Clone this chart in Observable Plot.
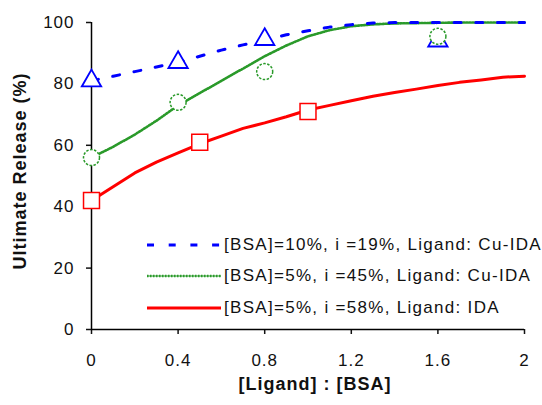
<!DOCTYPE html>
<html>
<head>
<meta charset="utf-8">
<script src="https://cdn.jsdelivr.net/npm/d3@7"></script>
<script src="https://cdn.jsdelivr.net/npm/@observablehq/plot@0.6"></script>
<style>
  html, body { margin: 0; padding: 0; background: #fff; }
  #wrap { position: relative; width: 542px; height: 405px; }
  #legend { position: absolute; left: 147px; top: 229px; font-family: "Liberation Sans", Arial, sans-serif; font-size: 17px; letter-spacing: 1.3px; color: #111; }
  .row { display: flex; align-items: center; height: 31.5px; white-space: nowrap; }
  .row svg { width: 77px; height: 10px; display: block; }
</style>
</head>
<body>
<div id="wrap"><div id="legend"></div></div>
<script>
// ---- data ----
const xTicks = [0, 0.4, 0.8, 1.2, 1.6, 2];
const yTicks = [0, 20, 40, 60, 80, 100];

const curveX = [0, 0.1, 0.2, 0.3, 0.4, 0.5, 0.6, 0.7, 0.8, 0.9, 1.0, 1.1, 1.2, 1.3, 1.4, 1.5, 1.6, 1.7, 1.8, 1.9, 2.0];
const blueCurve  = [81, 82.5, 84, 85.5, 87, 89, 91, 92.7, 94.3, 96, 97.3, 98.5, 99.3, 99.8, 100, 100, 100, 100, 100, 100, 100];
const greenCurve = [56, 59.5, 63.5, 68, 73, 77, 81, 85, 89, 92.5, 95.5, 97.5, 98.8, 99.4, 99.7, 99.8, 99.9, 100, 100, 100, 100];
const redCurve   = [42, 46.5, 51, 54.5, 57.5, 60.5, 63, 65.5, 67.3, 69.3, 71.5, 73, 74.5, 76, 77.2, 78.3, 79.5, 80.5, 81.3, 82.2, 82.5];

const triX = [0, 0.4, 0.8, 1.6];
const triY = [81, 87, 94.5, 94];
const circX = [0, 0.4, 0.8, 1.6];
const circY = [56, 74, 84, 95.5];
const sqX = [0, 0.5, 1.0];
const sqY = [42, 61, 71];

const seriesNames = [
  "[BSA]=10%, i =19%, Ligand: Cu-IDA",
  "[BSA]=5%, i =45%, Ligand: Cu-IDA",
  "[BSA]=5%, i =58%, Ligand: IDA"
];
const yLabel = "Ultimate Release (%)";
const xLabel = "[Ligand] : [BSA]";

const BLUE = "#0000ff", GREEN = "#2a9a2a", RED = "#ff0000";

const toRows = (xs, ys) => xs.map((x, i) => ({x, y: ys[i]}));

const chart = Plot.plot({
  width: 542,
  height: 405,
  marginLeft: 91,
  marginRight: 18,
  marginTop: 22,
  marginBottom: 76,
  x: {domain: [0, 2]},
  y: {domain: [0, 100]},
  style: {fontFamily: "Liberation Sans, Arial, sans-serif", fontSize: "17px", letterSpacing: "1px", color: "#111", background: "#fff"},
  marks: [
    Plot.axisX({ticks: xTicks, tickSize: 5, tickPadding: 19, strokeWidth: 1.5, label: null, tickFormat: d => String(d), fill: "#111"}),
    Plot.axisY({ticks: yTicks, tickSize: 5, tickPadding: 12, strokeWidth: 1.5, label: null, tickFormat: d => String(d), fill: "#111"}),
    Plot.ruleX([0], {stroke: "#000", strokeWidth: 1.5}),
    Plot.ruleY([0], {stroke: "#000", strokeWidth: 1.5}),
    Plot.line(toRows(curveX, redCurve), {x: "x", y: "y", stroke: RED, strokeWidth: 3}),
    Plot.line(toRows(curveX, greenCurve), {x: "x", y: "y", stroke: GREEN, strokeWidth: 1.2}),
    Plot.line(toRows(curveX, greenCurve), {x: "x", y: "y", stroke: GREEN, strokeWidth: 2.6, strokeDasharray: "1.5,1.5"}),
    Plot.line(toRows(curveX, blueCurve), {x: "x", y: "y", stroke: BLUE, strokeWidth: 3, strokeDasharray: "7,14.7"}),
    Plot.dot(toRows(sqX, sqY), {x: "x", y: "y", symbol: "square", r: 9, stroke: RED, strokeWidth: 1.5, fill: "#fff"}),
    Plot.dot(toRows(triX, triY), {x: "x", y: "y", symbol: "triangle", r: 7.2, stroke: BLUE, strokeWidth: 1.8, fill: "#fff"}),
    Plot.dot(toRows(circX, circY), {x: "x", y: "y", symbol: "circle", r: 8, stroke: GREEN, strokeWidth: 1.5, strokeDasharray: "2.5,1.5", fill: "#fff"}),
    Plot.text([yLabel], {frameAnchor: "left", textAnchor: "middle", rotate: -90, dx: -71, dy: -5, lineAnchor: "middle", fontWeight: "bold", fontSize: 18, fill: "#111"}),
    Plot.text([xLabel], {frameAnchor: "bottom", textAnchor: "middle", dx: 7, dy: 55, lineAnchor: "middle", fontWeight: "bold", fontSize: 18, fill: "#111"})
  ]
});
document.getElementById("wrap").prepend(chart);

// ---- legend (HTML overlay) ----
const legendStyles = [
  {stroke: BLUE, width: 3, dash: "7,14.7"},
  {stroke: GREEN, width: 2.6, dash: "1.5,1.5"},
  {stroke: RED, width: 3, dash: null}
];
const legend = document.getElementById("legend");
seriesNames.forEach((name, i) => {
  const row = document.createElement("div");
  row.className = "row";
  const s = legendStyles[i];
  const svg = d3.create("svg").attr("viewBox", "0 0 77 10");
  if (i === 1) {
    svg.append("line").attr("x1", 0).attr("x2", 74).attr("y1", 5).attr("y2", 5)
      .attr("stroke", s.stroke).attr("stroke-width", 1.2);
  }
  svg.append("line").attr("x1", 0).attr("x2", 74).attr("y1", 5).attr("y2", 5)
    .attr("stroke", s.stroke).attr("stroke-width", s.width)
    .attr("stroke-dasharray", s.dash);
  row.appendChild(svg.node());
  const span = document.createElement("span");
  span.textContent = name;
  row.appendChild(span);
  legend.appendChild(row);
});
</script>
</body>
</html>
